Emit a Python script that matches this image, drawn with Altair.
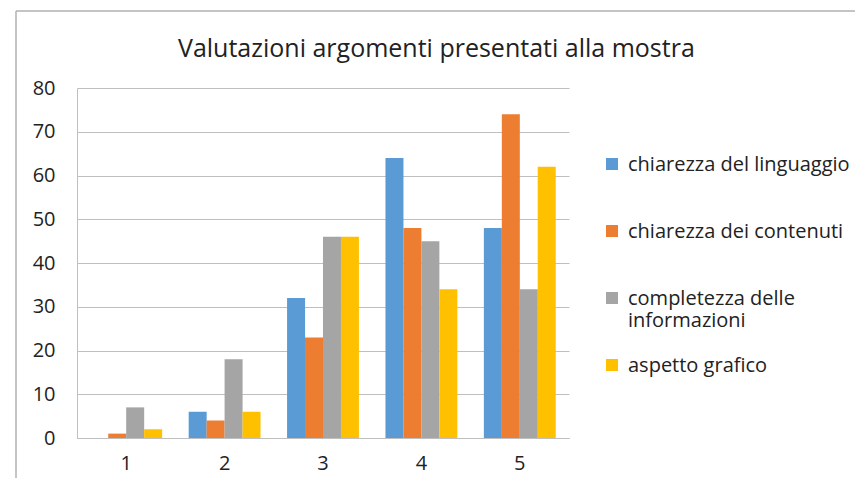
import altair as alt
import pandas as pd

categories = ["1", "2", "3", "4", "5"]
series = ["chiarezza del linguaggio", "chiarezza dei contenuti",
          "completezza delle informazioni", "aspetto grafico"]
chiarezza_linguaggio = [0, 6, 32, 64, 48]
chiarezza_contenuti = [1, 4, 23, 48, 74]
completezza_info = [7, 18, 46, 45, 34]
aspetto_grafico = [2, 6, 46, 34, 62]
colors = ["#5B9BD5", "#ED7D31", "#A5A5A5", "#FFC000"]

rows = []
for s, vals in zip(series, [chiarezza_linguaggio, chiarezza_contenuti,
                            completezza_info, aspetto_grafico]):
    for c, v in zip(categories, vals):
        rows.append({"cat": c, "serie": s, "val": v})
df = pd.DataFrame(rows)

FONT = "Open Sans"
TXT = "#222222"

bars = alt.Chart(df).mark_bar(size=18).encode(
    x=alt.X("cat:N", sort=categories, title=None,
            scale=alt.Scale(paddingInner=0.27, paddingOuter=0.135),
            axis=alt.Axis(labelAngle=0, ticks=False, domain=True, domainColor="#bfbfbf",
                          labelFontSize=20, labelPadding=15, labelColor=TXT,
                          labelFont=FONT, grid=False)),
    xOffset=alt.XOffset("serie:N", sort=series, scale=alt.Scale(paddingInner=0, paddingOuter=0)),
    y=alt.Y("val:Q", title=None,
            scale=alt.Scale(domain=[0, 80], nice=False),
            axis=alt.Axis(values=list(range(0, 81, 10)), ticks=False, domain=True,
                          domainColor="#bfbfbf", gridColor="#bfbfbf", gridWidth=1,
                          labelFontSize=20, labelPadding=22, labelColor=TXT,
                          labelFont=FONT)),
    color=alt.Color("serie:N", sort=series,
                    scale=alt.Scale(domain=series, range=colors),
                    legend=alt.Legend(title=None, orient="none", legendX=525, legendY=73,
                                      symbolType="M-1,-2.17L1,-2.17L1,-0.17L-1,-0.17Z",
                                      symbolSize=144, symbolStrokeWidth=0,
                                      labelFontSize=20, labelFont=FONT,
                                      labelColor=TXT, rowPadding=25,
                                      labelBaseline="alphabetic",
                                      labelLimit=400, labelOffset=6,
                                      labelExpr="datum.label == 'completezza delle informazioni' ? ['completezza delle', 'informazioni'] : [datum.label, '']")),
)

frame_top = alt.Chart(pd.DataFrame({"k": [0]})).mark_rule(
    clip=False, color="#b0b0b0", strokeWidth=1.5).encode(
    x=alt.value(-61), x2=alt.value(800), y=alt.value(-77))
frame_left = alt.Chart(pd.DataFrame({"k": [0]})).mark_rule(
    clip=False, color="#b0b0b0", strokeWidth=1.5).encode(
    x=alt.value(-61), y=alt.value(-77), y2=alt.value(400))

chart = alt.layer(frame_top, frame_left, bars).properties(
    width=492, height=350,
    padding={"left": 69, "top": 80, "right": 286, "bottom": 40},
    autosize=alt.AutoSizeParams(type="none"),
    title=alt.Title("Valutazioni argomenti presentati alla mostra", fontSize=25,
                    font=FONT, fontWeight="normal", color=TXT,
                    anchor="start", frame="group", dx=101, offset=-52),
).configure_view(stroke=None)

chart.save("out.html", embed_options={"renderer": "svg", "actions": False})
